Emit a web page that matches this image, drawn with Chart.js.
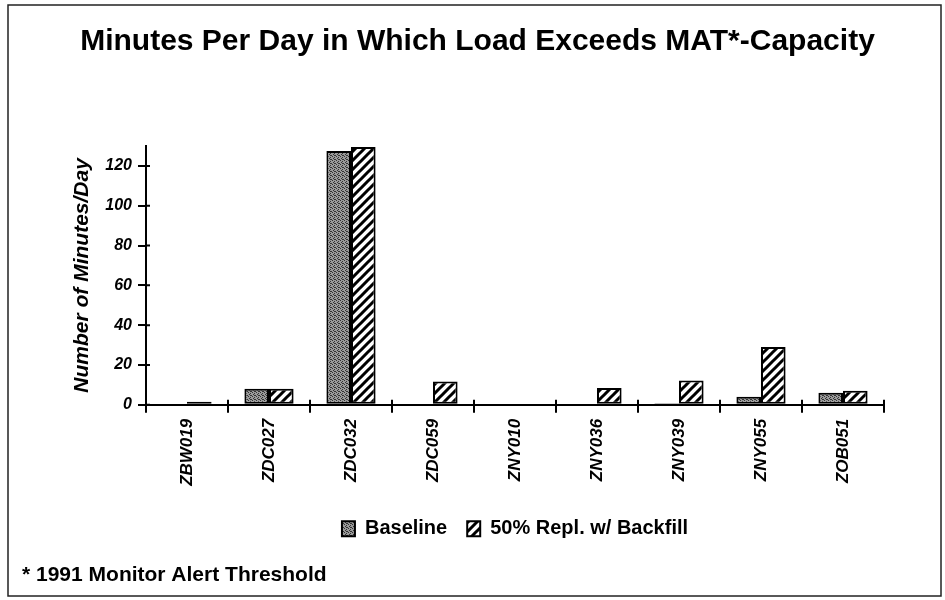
<!DOCTYPE html>
<html><head><meta charset="utf-8">
<script src="https://cdn.jsdelivr.net/npm/chart.js@4"></script>
<style>html,body{margin:0;padding:0;background:#fff}#wrap{width:945px;height:600px}</style>
</head><body><div id="wrap"><canvas id="c" width="945" height="600"></canvas></div>
<script>
// ---- data ----
const categories = ['ZBW019', 'ZDC027', 'ZDC032', 'ZDC059', 'ZNY010', 'ZNY036', 'ZNY039', 'ZNY055', 'ZOB051'];
const baseline = [0, 8, 127.5, 0, 0, 0, 0.8, 4, 6];
const replBackfill = [1.5, 8, 129.5, 11.7, 0.5, 8.5, 12.2, 29, 7];
const yTickValues = [0, 20, 40, 60, 80, 100, 120];
const seriesNames = ['Baseline', '50% Repl. w/ Backfill'];
const titleText = 'Minutes Per Day in Which Load Exceeds MAT*-Capacity';
const yTitleText = 'Number of Minutes/Day';
const footnoteText = '* 1991 Monitor Alert Threshold';

// ---- patterns ----
const mainCtx = document.getElementById('c').getContext('2d');
function makeStipple() {
  const c = document.createElement('canvas'); c.width = c.height = 4;
  const g = c.getContext('2d');
  g.fillStyle = '#9a9a9a'; g.fillRect(0, 0, 4, 4);
  g.fillStyle = '#333333';
  [[0,0],[2,1],[1,2],[3,3],[2,3]].forEach(([x,y]) => g.fillRect(x, y, 1, 1));
  return mainCtx.createPattern(c, 'repeat');
}
function makeHatch() {
  const s = 9;
  const c = document.createElement('canvas'); c.width = c.height = s;
  const g = c.getContext('2d');
  g.fillStyle = '#ffffff'; g.fillRect(0, 0, s, s);
  g.strokeStyle = '#000000'; g.lineWidth = 3; g.lineCap = 'square';
  g.beginPath();
  for (const k of [-s, 0, s]) { g.moveTo(k, s); g.lineTo(k + s, 0); }
  g.stroke();
  return mainCtx.createPattern(c, 'repeat');
}

const framePlugin = {
  id: 'frame',
  beforeDraw(chart) {
    const ctx = chart.ctx;
    ctx.save();
    ctx.fillStyle = '#fff'; ctx.fillRect(0, 0, chart.width, chart.height);
    ctx.strokeStyle = '#222'; ctx.lineWidth = 1.5;
    ctx.strokeRect(8, 5, 933, 591);
    ctx.restore();
  }
};

// short tick stubs that cross into the plot area, as in the original
const innerTicksPlugin = {
  id: 'innerTicks',
  afterDraw(chart) {
    const ctx = chart.ctx, xs = chart.scales.x, ys = chart.scales.y;
    ctx.save();
    ctx.strokeStyle = '#000'; ctx.lineWidth = 2;
    ctx.beginPath();
    const n = xs.ticks.length;
    for (let i = 0; i <= n; i++) {
      const px = i === n ? xs.right : (i === 0 ? xs.left : (xs.getPixelForTick(i - 1) + xs.getPixelForTick(i)) / 2);
      ctx.moveTo(px, ys.bottom); ctx.lineTo(px, ys.bottom - 5);
    }
    ys.ticks.forEach((t, i) => {
      const py = ys.getPixelForTick(i);
      ctx.moveTo(ys.right, py); ctx.lineTo(ys.right + 4, py);
    });
    ctx.stroke();
    ctx.restore();
  }
};

Chart.defaults.font.family = '"Liberation Sans", Arial, Helvetica, sans-serif';
Chart.defaults.color = '#000';

new Chart(mainCtx, {
  type: 'bar',
  data: {
    labels: categories,
    datasets: [
      { label: seriesNames[0], data: baseline, backgroundColor: makeStipple(), borderColor: '#000', borderWidth: 2, borderSkipped: false },
      { label: seriesNames[1], data: replBackfill, backgroundColor: makeHatch(), borderColor: '#000', borderWidth: 2, borderSkipped: false }
    ]
  },
  options: {
    responsive: false,
    animation: false,
    devicePixelRatio: 1,
    layout: { padding: { left: 22, right: 12, top: 0, bottom: 0 } },
    datasets: { bar: { categoryPercentage: 0.6, barPercentage: 1.0 } },
    plugins: {
      tooltip: { enabled: false },
      title: {
        display: true, text: titleText, color: '#000',
        font: { size: 30, weight: 'bold' },
        padding: { top: 24, bottom: 86 }
      },
      subtitle: {
        display: true, text: footnoteText, position: 'bottom', align: 'start', color: '#000',
        font: { size: 21, weight: 'bold' },
        padding: { top: 14, bottom: 12 }
      },
      legend: {
        position: 'bottom', fullSize: false,
        labels: { boxWidth: 13, boxHeight: 15, padding: 20, color: '#000', font: { size: 20, weight: 'bold' } }
      }
    },
    scales: {
      x: {
        grid: { drawOnChartArea: false, drawTicks: true, tickLength: 8, color: '#000', lineWidth: 2, offset: true },
        border: { display: true, color: '#000', width: 2 },
        ticks: { autoSkip: false, minRotation: 90, maxRotation: 90, padding: 6, color: '#000', font: { size: 17, weight: 'bold', style: 'italic' } },
        afterFit: s => { s.height = 94; }
      },
      y: {
        min: 0, max: 130,
        afterBuildTicks: s => { s.ticks = yTickValues.map(v => ({ value: v })); },
        grid: { drawOnChartArea: false, drawTicks: true, tickLength: 8, color: '#000', lineWidth: 2 },
        border: { display: true, color: '#000', width: 2 },
        ticks: { padding: 6, color: '#000', font: { size: 16, weight: 'bold', style: 'italic' } },
        title: { display: true, text: yTitleText, color: '#000', font: { size: 21, weight: 'bold', style: 'italic' }, padding: { top: 48, bottom: 0 } },
        afterFit: s => { s.width = 124; }
      },
      spacer: {
        type: 'linear', position: 'right', display: true,
        grid: { display: false }, border: { display: false }, ticks: { display: false },
        afterFit: s => { s.width = 49; }
      }
    }
  },
  plugins: [framePlugin, innerTicksPlugin]
});
</script>
</body></html>
